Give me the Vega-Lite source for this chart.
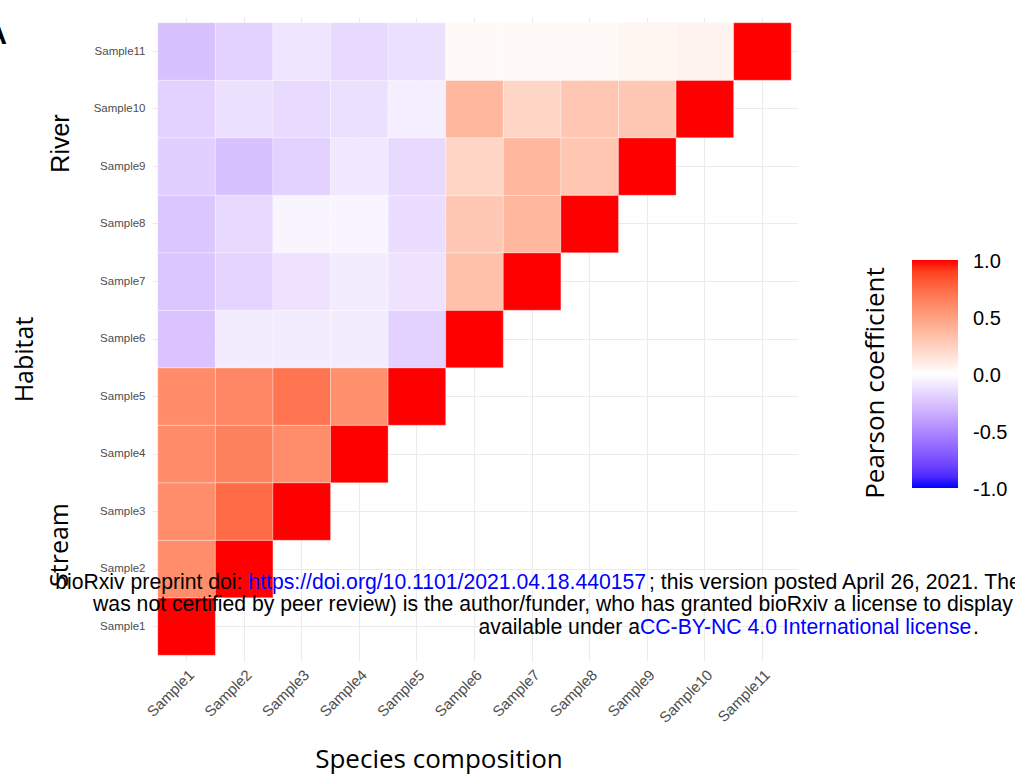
{
  "$schema": "https://vega.github.io/schema/vega-lite/v6.json",
  "autosize": "none",
  "width": 645,
  "height": 644,
  "padding": {"left": 152, "top": 17, "right": 218, "bottom": 120},
  "background": "white",
  "config": {
    "view": {"stroke": null},
    "axis": {
      "domain": false,
      "ticks": false,
      "zindex": 0,
      "gridColor": "#ebebeb",
      "gridWidth": 1.1,
      "labelFont": "Liberation Sans",
      "labelColor": "#4d4d4d",
      "titleFont": "Open Sans",
      "titleFontWeight": "normal",
      "titleFontSize": 26,
      "titleColor": "#000000"
    },
    "legend": {
      "orient": "none",
      "legendX": 711,
      "legendY": 243,
      "padding": 0,
      "direction": "vertical",
      "gradientLength": 228,
      "gradientThickness": 46,
      "gradientStrokeWidth": 0,
      "labelFont": "Liberation Sans",
      "labelFontSize": 20,
      "labelColor": "#000000",
      "labelOffset": 15,
      "labelOverlap": false,
      "titleOrient": "left",
      "titleAnchor": "middle",
      "titleLimit": 400,
      "titleFont": "Open Sans",
      "titleFontSize": 26,
      "titleFontWeight": "normal",
      "titleColor": "#000000",
      "titlePadding": 22
    }
  },
  "layer": [
    {
      "data": {
        "values": [
          {"col": "Sample1", "row": "Sample1", "r": 1},
          {"col": "Sample1", "row": "Sample2", "r": 0.59},
          {"col": "Sample2", "row": "Sample2", "r": 1},
          {"col": "Sample1", "row": "Sample3", "r": 0.59},
          {"col": "Sample2", "row": "Sample3", "r": 0.74},
          {"col": "Sample3", "row": "Sample3", "r": 1},
          {"col": "Sample1", "row": "Sample4", "r": 0.6},
          {"col": "Sample2", "row": "Sample4", "r": 0.64},
          {"col": "Sample3", "row": "Sample4", "r": 0.59},
          {"col": "Sample4", "row": "Sample4", "r": 1},
          {"col": "Sample1", "row": "Sample5", "r": 0.6},
          {"col": "Sample2", "row": "Sample5", "r": 0.62},
          {"col": "Sample3", "row": "Sample5", "r": 0.7},
          {"col": "Sample4", "row": "Sample5", "r": 0.57},
          {"col": "Sample5", "row": "Sample5", "r": 1},
          {"col": "Sample1", "row": "Sample6", "r": -0.25},
          {"col": "Sample2", "row": "Sample6", "r": -0.08},
          {"col": "Sample3", "row": "Sample6", "r": -0.08},
          {"col": "Sample4", "row": "Sample6", "r": -0.08},
          {"col": "Sample5", "row": "Sample6", "r": -0.19},
          {"col": "Sample6", "row": "Sample6", "r": 1},
          {"col": "Sample1", "row": "Sample7", "r": -0.24},
          {"col": "Sample2", "row": "Sample7", "r": -0.18},
          {"col": "Sample3", "row": "Sample7", "r": -0.12},
          {"col": "Sample4", "row": "Sample7", "r": -0.08},
          {"col": "Sample5", "row": "Sample7", "r": -0.12},
          {"col": "Sample6", "row": "Sample7", "r": 0.33},
          {"col": "Sample7", "row": "Sample7", "r": 1},
          {"col": "Sample1", "row": "Sample8", "r": -0.24},
          {"col": "Sample2", "row": "Sample8", "r": -0.16},
          {"col": "Sample3", "row": "Sample8", "r": -0.04},
          {"col": "Sample4", "row": "Sample8", "r": -0.04},
          {"col": "Sample5", "row": "Sample8", "r": -0.14},
          {"col": "Sample6", "row": "Sample8", "r": 0.29},
          {"col": "Sample7", "row": "Sample8", "r": 0.38},
          {"col": "Sample8", "row": "Sample8", "r": 1},
          {"col": "Sample1", "row": "Sample9", "r": -0.2},
          {"col": "Sample2", "row": "Sample9", "r": -0.26},
          {"col": "Sample3", "row": "Sample9", "r": -0.19},
          {"col": "Sample4", "row": "Sample9", "r": -0.1},
          {"col": "Sample5", "row": "Sample9", "r": -0.16},
          {"col": "Sample6", "row": "Sample9", "r": 0.22},
          {"col": "Sample7", "row": "Sample9", "r": 0.38},
          {"col": "Sample8", "row": "Sample9", "r": 0.3},
          {"col": "Sample9", "row": "Sample9", "r": 1},
          {"col": "Sample1", "row": "Sample10", "r": -0.19},
          {"col": "Sample2", "row": "Sample10", "r": -0.13},
          {"col": "Sample3", "row": "Sample10", "r": -0.15},
          {"col": "Sample4", "row": "Sample10", "r": -0.13},
          {"col": "Sample5", "row": "Sample10", "r": -0.07},
          {"col": "Sample6", "row": "Sample10", "r": 0.38},
          {"col": "Sample7", "row": "Sample10", "r": 0.22},
          {"col": "Sample8", "row": "Sample10", "r": 0.3},
          {"col": "Sample9", "row": "Sample10", "r": 0.29},
          {"col": "Sample10", "row": "Sample10", "r": 1},
          {"col": "Sample1", "row": "Sample11", "r": -0.26},
          {"col": "Sample2", "row": "Sample11", "r": -0.19},
          {"col": "Sample3", "row": "Sample11", "r": -0.11},
          {"col": "Sample4", "row": "Sample11", "r": -0.16},
          {"col": "Sample5", "row": "Sample11", "r": -0.13},
          {"col": "Sample6", "row": "Sample11", "r": 0.03},
          {"col": "Sample7", "row": "Sample11", "r": 0.03},
          {"col": "Sample8", "row": "Sample11", "r": 0.03},
          {"col": "Sample9", "row": "Sample11", "r": 0.05},
          {"col": "Sample10", "row": "Sample11", "r": 0.06},
          {"col": "Sample11", "row": "Sample11", "r": 1}
        ]
      },
      "mark": {"type": "rect", "stroke": "white", "strokeWidth": 0.6, "strokeOpacity": 0.5},
      "encoding": {
        "x": {
          "field": "col",
          "type": "nominal",
          "scale": {
            "domain": ["Sample1","Sample2","Sample3","Sample4","Sample5","Sample6","Sample7","Sample8","Sample9","Sample10","Sample11"],
            "paddingInner": 0,
            "paddingOuter": 0.1
          },
          "axis": {
            "title": "Species composition",
            "grid": true,
            "zindex": 0,
            "bandPosition": 0.5,
            "labelAngle": -45,
            "labelAlign": "right",
            "labelBaseline": "top",
            "labelFontSize": 15,
            "labelPadding": 6,
            "titleX": 286.5,
            "titleY": 106,
            "titleAlign": "center",
            "titleBaseline": "alphabetic"
          }
        },
        "y": {
          "field": "row",
          "type": "nominal",
          "scale": {
            "domain": ["Sample11","Sample10","Sample9","Sample8","Sample7","Sample6","Sample5","Sample4","Sample3","Sample2","Sample1"],
            "paddingInner": 0,
            "paddingOuter": 0.1
          },
          "axis": {
            "title": "Habitat",
            "grid": true,
            "zindex": 0,
            "bandPosition": 0.5,
            "labelFontSize": 11.5,
            "labelPadding": 7,
            "titleX": -120,
            "titleY": 342,
            "titleAlign": "center",
            "titleBaseline": "alphabetic",
            "titleFontSize": 25
          }
        },
        "color": {
          "field": "r",
          "type": "quantitative",
          "title": "Pearson coefficient",
          "scale": {"domain": [-1, 0, 1], "range": ["#0000ff", "#ffffff", "#ff0000"], "interpolate": "lab"},
          "legend": {
            "values": [-1, -0.5, 0, 0.5, 1],
            "labelOffset": 15,
            "labelExpr": "datum.value < 0 ? '-' + format(-datum.value, '.1f') : format(datum.value, '.1f')",
            "titleLimit": 400,
            "encode": {
              "labels": {"update": {"baseline": {"value": "middle"}, "dy": {"value": 2}}},
              "title": {"update": {"dx": {"value": -9}}}
            }
          }
        }
      }
    },
    {
      "data": {"values": [{"t": "River"}]},
      "mark": {"type": "text", "font": "Liberation Sans", "fontSize": 25, "angle": 270, "align": "center", "baseline": "alphabetic", "color": "#000000", "dx": 23, "dy": -117.6},
      "encoding": {
        "x": {"datum": "Sample1", "type": "nominal"},
        "y": {"datum": "Sample9", "type": "nominal"},
        "text": {"field": "t"}
      }
    },
    {
      "data": {"values": [{"t": "Stream"}]},
      "mark": {"type": "text", "font": "Open Sans", "fontSize": 25, "angle": 270, "align": "center", "baseline": "alphabetic", "color": "#000000", "dx": 24, "dy": -118.6},
      "encoding": {
        "x": {"datum": "Sample1", "type": "nominal"},
        "y": {"datum": "Sample2", "type": "nominal"},
        "text": {"field": "t"}
      }
    },
    {
      "data": {"values": [{"t": "A"}]},
      "mark": {"type": "text", "font": "Liberation Sans", "fontSize": 28, "fontWeight": "bold", "align": "right", "baseline": "alphabetic", "color": "#000000", "dx": -179.5, "dy": -7.5},
      "encoding": {
        "x": {"datum": "Sample1", "type": "nominal"},
        "y": {"datum": "Sample11", "type": "nominal"},
        "text": {"field": "t"}
      }
    },
    {
      "data": {"values": [{"t": "bioRxiv preprint doi:"}]},
      "mark": {"type": "text", "font": "Liberation Sans", "fontSize": 21.2, "align": "right", "baseline": "alphabetic", "color": "#000000", "dx": -1.7, "dy": 19.5},
      "encoding": {
        "x": {"datum": "Sample2", "type": "nominal"},
        "y": {"datum": "Sample2", "type": "nominal"},
        "text": {"field": "t"}
      }
    },
    {
      "data": {"values": [{"t": "https://doi.org/10.1101/2021.04.18.440157"}]},
      "mark": {"type": "text", "font": "Liberation Sans", "fontSize": 21.2, "align": "left", "baseline": "alphabetic", "color": "#0000ff", "dx": 4.2, "dy": 19.5},
      "encoding": {
        "x": {"datum": "Sample2", "type": "nominal"},
        "y": {"datum": "Sample2", "type": "nominal"},
        "text": {"field": "t"}
      }
    },
    {
      "data": {"values": [{"t": "; this version posted April 26, 2021. The"}]},
      "mark": {"type": "text", "font": "Liberation Sans", "fontSize": 21.2, "align": "left", "baseline": "alphabetic", "color": "#000000", "dx": 1.7, "dy": 19.5},
      "encoding": {
        "x": {"datum": "Sample9", "type": "nominal"},
        "y": {"datum": "Sample2", "type": "nominal"},
        "text": {"field": "t"}
      }
    },
    {
      "data": {"values": [{"t": "was not certified by peer review) is the author/funder, who has granted bioRxiv a license to display"}]},
      "mark": {"type": "text", "font": "Liberation Sans", "fontSize": 21.2, "align": "left", "baseline": "alphabetic", "color": "#000000", "dx": -93.5, "dy": 42},
      "encoding": {
        "x": {"datum": "Sample1", "type": "nominal"},
        "y": {"datum": "Sample2", "type": "nominal"},
        "text": {"field": "t"}
      }
    },
    {
      "data": {"values": [{"t": "available under a"}]},
      "mark": {"type": "text", "font": "Liberation Sans", "fontSize": 21.2, "align": "right", "baseline": "alphabetic", "color": "#000000", "dx": -7.3, "dy": 7},
      "encoding": {
        "x": {"datum": "Sample9", "type": "nominal"},
        "y": {"datum": "Sample1", "type": "nominal"},
        "text": {"field": "t"}
      }
    },
    {
      "data": {"values": [{"t": "CC-BY-NC 4.0 International license"}]},
      "mark": {"type": "text", "font": "Liberation Sans", "fontSize": 21.2, "align": "left", "baseline": "alphabetic", "color": "#0000ff", "dx": -7.3, "dy": 7},
      "encoding": {
        "x": {"datum": "Sample9", "type": "nominal"},
        "y": {"datum": "Sample1", "type": "nominal"},
        "text": {"field": "t"}
      }
    },
    {
      "data": {"values": [{"t": "."}]},
      "mark": {"type": "text", "font": "Liberation Sans", "fontSize": 21.2, "align": "left", "baseline": "alphabetic", "color": "#000000", "dx": 210.6, "dy": 7},
      "encoding": {
        "x": {"datum": "Sample11", "type": "nominal"},
        "y": {"datum": "Sample1", "type": "nominal"},
        "text": {"field": "t"}
      }
    }
  ]
}
